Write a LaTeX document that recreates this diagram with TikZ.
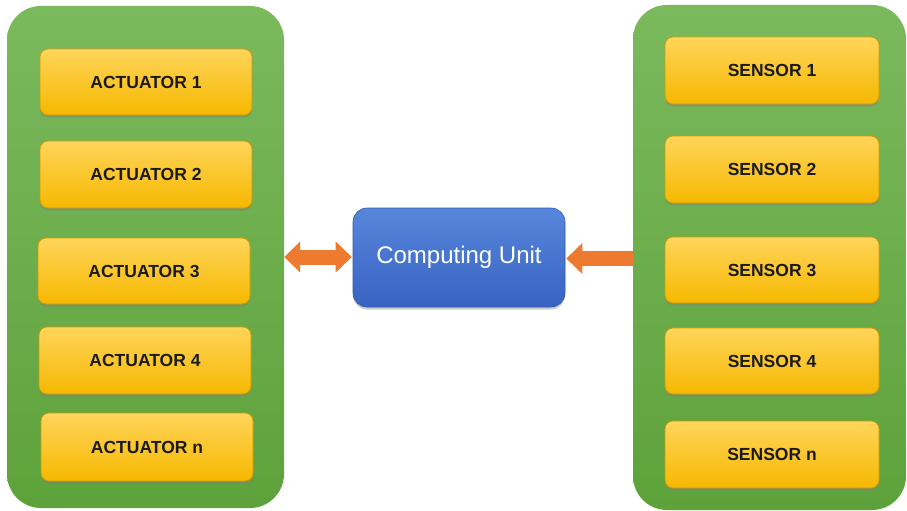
\documentclass[tikz,border=0pt]{standalone}
\usepackage{fontspec}
\setmainfont{Liberation Sans}
\usetikzlibrary{arrows.meta,shadows}
\definecolor{gtop}{HTML}{7BB95D}
\definecolor{gbot}{HTML}{5EA23B}
\definecolor{ytop}{HTML}{FFD55A}
\definecolor{ybot}{HTML}{F6B800}
\definecolor{yedge}{HTML}{D29A00}
\definecolor{btop}{HTML}{5787DB}
\definecolor{bbot}{HTML}{3863C3}
\definecolor{bedge}{HTML}{3158AE}
\definecolor{arr}{HTML}{EE7A30}
\definecolor{txt}{HTML}{1A1A1A}
\tikzset{
  panel/.style={rounded corners=34pt, top color=gtop, bottom color=gbot, draw=none, inner sep=0pt},
  ybox/.style={rounded corners=8pt, top color=ytop, bottom color=ybot, draw=yedge, line width=0.8pt,
     minimum width=212pt, minimum height=66pt, inner sep=0pt,
     font=\fontsize{17.5pt}{20pt}\selectfont\bfseries, text=txt,
     drop shadow={shadow xshift=0pt, shadow yshift=-2.5pt, opacity=0.5}},
  cubox/.style={rounded corners=14pt, top color=btop, bottom color=bbot, draw=bedge, line width=0.6pt,
     minimum width=212pt, minimum height=99pt, inner sep=0pt,
     font=\fontsize{24pt}{28pt}\selectfont, text=white,
     drop shadow={shadow xshift=0pt, shadow yshift=-2.5pt, opacity=0.4}},
  bigarrow/.style={draw=arr, line width=15pt, line cap=butt}
}
\begin{document}
\begin{tikzpicture}[x=1pt,y=-1pt]
\useasboundingbox[fill=white] (0,0) rectangle (907,511);
% panels
\node[panel, minimum width=277pt, minimum height=502pt] (lp) at (145.5,257) {};
\node[panel, minimum width=273pt, minimum height=505pt] (rp) at (769.5,257.5) {};
% actuators
\node[ybox] (a1) at (146,82) {ACTUATOR 1};
\node[ybox, minimum height=67pt] (a2) at (146,174.5) {ACTUATOR 2};
\node[ybox] (a3) at (144,271) {ACTUATOR 3};
\node[ybox, minimum height=67pt] (a4) at (145,360.5) {ACTUATOR 4};
\node[ybox, minimum height=68pt] (an) at (147,447) {ACTUATOR n};
% sensors
\node[ybox, minimum width=214pt, minimum height=67pt] (s1) at (772,70.5) {SENSOR 1};
\node[ybox, minimum width=214pt, minimum height=67pt] (s2) at (772,169.5) {SENSOR 2};
\node[ybox, minimum width=214pt] (s3) at (772,270) {SENSOR 3};
\node[ybox, minimum width=214pt] (s4) at (772,361) {SENSOR 4};
\node[ybox, minimum width=214pt, minimum height=67pt] (sn) at (772,454.5) {SENSOR n};
% computing unit
\node[cubox] (cu) at (459,257.5) {Computing Unit};
% arrows
\coordinate (la) at (lp.east |- cu.west);
\coordinate (ra) at (rp.west |- cu.east);
\draw[bigarrow, {Triangle[length=16pt,width=30pt]}-{Triangle[length=16pt,width=30pt]}] ([yshift=0.5pt]la) -- ([yshift=0.5pt,xshift=-1pt]cu.west);
\draw[bigarrow, -{Triangle[length=16pt,width=30pt]}] ([yshift=-1pt]ra) -- ([yshift=-1pt,xshift=1pt]cu.east);
\end{tikzpicture}
\end{document}
